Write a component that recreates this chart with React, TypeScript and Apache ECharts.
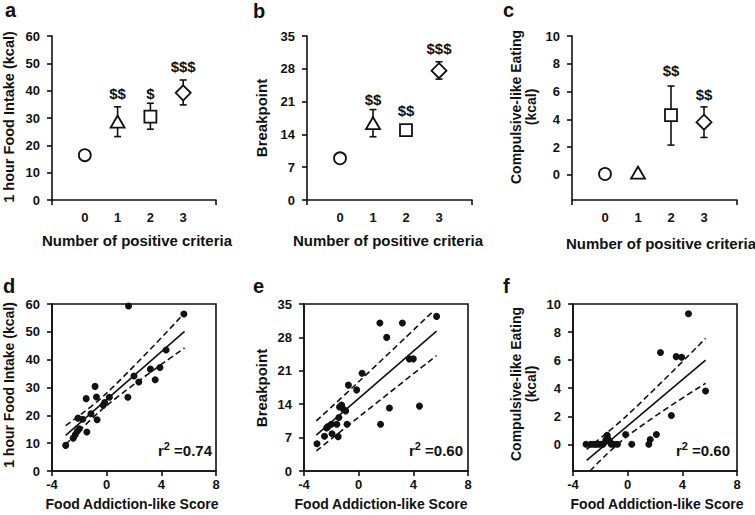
import React, { useEffect, useRef } from "react";
import * as echarts from "echarts";

// ---------------- DATA ----------------
const criteriaTicks = [0, 1, 2, 3];

// a: 1 hour food intake (kcal) by number of positive criteria
const intakeMean = [16.4, 28.7, 30.5, 39.2];
const intakeLow = [16.4, 23.2, 25.9, 34.8];
const intakeHigh = [16.4, 34.1, 35.4, 43.9];
const intakeSig = ["", "$$", "$", "$$$"];
const intakeSigY = [0, 39.1, 39.1, 48.7];

// b: breakpoint
const bpMean = [8.9, 16.4, 14.9, 27.6];
const bpLow = [8.9, 13.5, 14.9, 25.8];
const bpHigh = [8.9, 19.3, 14.9, 29.5];
const bpSig = ["", "$$", "$$", "$$$"];
const bpSigY = [0, 21.5, 19.2, 32.4];

// c: compulsive-like eating (kcal)
const compMean = [0.07, 0.17, 4.3, 3.8];
const compLow = [0.07, 0.17, 2.15, 2.7];
const compHigh = [0.07, 0.17, 6.4, 4.9];
const compSig = ["", "", "$$", "$$"];
const compSigY = [0, 0, 7.5, 5.8];

// d: food addiction-like score vs 1 hour intake
const scoreD = [-3.0, -2.45, -2.3, -2.15, -2.0, -2.1, -1.75, -1.45, -1.5, -1.15, -0.85, -0.75, -0.7, -0.25, -0.15, 0.2, 1.55, 1.6, 2.0, 2.35, 3.2, 3.55, 3.9, 4.35, 5.65];
const intakeD = [9.2, 11.8, 13.0, 14.3, 15.2, 19.0, 18.6, 14.0, 26.0, 20.6, 30.4, 26.6, 18.4, 23.6, 24.6, 26.5, 26.5, 59.3, 34.1, 32.0, 36.6, 32.8, 37.2, 43.5, 56.4];
const fitDx = [-3.0, 5.7];
const fitDy = [12.8, 50.2];
const upperDx = [-3.0, 0, 5.7];
const upperDy = [16.3, 28.0, 56.8];
const lowerDx = [-3.0, 0, 5.7];
const lowerDy = [9.5, 23.5, 44.2];

// e: score vs breakpoint
const scoreE = [-3.05, -2.5, -2.35, -2.25, -2.0, -1.95, -1.6, -1.5, -1.45, -1.4, -1.25, -1.1, -0.95, -0.85, -0.75, -0.15, 0.25, 1.55, 1.6, 2.05, 2.25, 3.2, 3.7, 4.0, 4.45, 5.7];
const bpE = [5.7, 7.3, 9.0, 9.3, 9.8, 7.8, 9.8, 7.2, 11.2, 13.4, 13.8, 12.9, 12.6, 9.8, 18.0, 17.0, 20.5, 31.0, 9.8, 28.0, 13.2, 31.0, 23.5, 23.5, 13.6, 32.4];
const fitEx = [-3.1, 5.7];
const fitEy = [7.5, 29.3];
const upperEx = [-3.1, 0, 5.5];
const upperEy = [10.5, 18.7, 33.6];
const lowerEx = [-3.1, 0, 5.7];
const lowerEy = [4.2, 11.3, 24.2];

// f: score vs compulsive-like eating
const scoreF = [-3.05, -2.7, -2.5, -2.35, -2.2, -2.0, -1.8, -1.6, -1.5, -1.45, -1.3, -1.2, -1.0, -0.75, -0.15, 0.3, 1.55, 1.65, 2.1, 2.4, 3.2, 3.55, 3.95, 4.45, 5.7];
const compF = [0, 0, 0, 0, 0, 0, 0, 0.3, 0.65, 0.4, 0.2, 0, 0, 0, 0.7, 0, 0, 0.35, 0.7, 6.55, 2.05, 6.25, 6.2, 9.3, 3.8];
const fitFx = [-3.0, 5.7];
const fitFy = [-1.15, 6.0];
const upperFx = [-3.0, 0, 5.7];
const upperFy = [-0.35, 2.1, 7.55];
const lowerFx = [-2.75, 0, 5.7];
const lowerFy = [-1.9, 0.6, 4.35];

const r2Values = ["0.74", "0.60", "0.60"];

// ---------------- STYLE ----------------
const INK = "#111";
const FONT = "Liberation Sans, Arial, sans-serif";
const markerSymbols = ["circle", "triangle", "rect", "diamond"];
const markerSizes: any[] = [12, [14, 12], 12, [15, 15]];

const zip = (xs: number[], ys: number[]) => xs.map((x, i) => [x, ys[i]]);

export default function App() {
  const ref = useRef<HTMLDivElement>(null);

  useEffect(() => {
    if (!ref.current) return;
    const chart = echarts.init(ref.current, null, { renderer: "svg" });

    const axisLine = { show: true, onZero: false, lineStyle: { color: INK, width: 1.6 } };
    const labelStyle = { color: INK, fontSize: 13, fontWeight: "bold", fontFamily: FONT };

    const grids = [
      { left: 52, top: 36, width: 164, height: 164 },
      { left: 307, top: 36, width: 165, height: 164 },
      { left: 572, top: 36, width: 165, height: 164 },
      { left: 52, top: 304, width: 164, height: 167, show: true, borderColor: INK, borderWidth: 1.6 },
      { left: 304, top: 304, width: 164, height: 167, show: true, borderColor: INK, borderWidth: 1.6 },
      { left: 573, top: 304, width: 164, height: 167, show: true, borderColor: INK, borderWidth: 1.6 },
    ];

    const xAxes: any[] = [];
    const yAxes: any[] = [];
    for (let i = 0; i < 3; i++) {
      xAxes.push({
        gridIndex: i, type: "value", min: -1, max: 4,
        axisLine, splitLine: { show: false },
        axisTick: { show: true, length: 5, customValues: [-1, 4], lineStyle: { color: INK, width: 1.6 } },
        axisLabel: { ...labelStyle, margin: 11, customValues: criteriaTicks },
      });
    }
    const topY = [
      { min: 0, max: 60, vals: [0, 10, 20, 30, 40, 50, 60] },
      { min: 0, max: 35, vals: [0, 7, 14, 21, 28, 35] },
      { min: -1.8, max: 10, vals: [0, 2, 4, 6, 8, 10] },
    ];
    topY.forEach((t, i) => {
      yAxes.push({
        gridIndex: i, type: "value", min: t.min, max: t.max,
        axisLine, splitLine: { show: false },
        axisTick: { show: true, length: 5, customValues: t.vals, lineStyle: { color: INK, width: 1.6 } },
        axisLabel: { ...labelStyle, margin: 12, customValues: t.vals },
      });
    });
    for (let i = 3; i < 6; i++) {
      xAxes.push({
        gridIndex: i, type: "value", min: -4, max: 8, interval: 4,
        axisLine, splitLine: { show: false },
        axisTick: { show: true, length: 5, lineStyle: { color: INK, width: 1.6 } },
        axisLabel: { ...labelStyle, margin: 7 },
      });
    }
    const botY = [
      { min: 0, max: 60, vals: [0, 10, 20, 30, 40, 50, 60] },
      { min: 0, max: 35, vals: [0, 7, 14, 21, 28, 35] },
      { min: -1.9, max: 10, vals: [0, 2, 4, 6, 8, 10] },
    ];
    botY.forEach((t, k) => {
      yAxes.push({
        gridIndex: k + 3, type: "value", min: t.min, max: t.max,
        axisLine, splitLine: { show: false },
        axisTick: { show: true, length: 5, customValues: t.vals, lineStyle: { color: INK, width: 1.6 } },
        axisLabel: { ...labelStyle, margin: 12, customValues: t.vals },
      });
    });

    const series: any[] = [];
    const topSets = [
      { mean: intakeMean, low: intakeLow, high: intakeHigh, sig: intakeSig, sigY: intakeSigY },
      { mean: bpMean, low: bpLow, high: bpHigh, sig: bpSig, sigY: bpSigY },
      { mean: compMean, low: compLow, high: compHigh, sig: compSig, sigY: compSigY },
    ];
    topSets.forEach((s, i) => {
      const errData = criteriaTicks
        .map((x, j) => [x, s.low[j], s.high[j]])
        .filter((d) => d[2] > d[1]);
      series.push({
        type: "custom", xAxisIndex: i, yAxisIndex: i, z: 2,
        data: errData,
        encode: { x: 0, y: [1, 2] },
        renderItem: (params: any, api: any) => {
          const x = api.value(0);
          const top = api.coord([x, api.value(2)]);
          const bot = api.coord([x, api.value(1)]);
          const w = 3.5;
          const st = { stroke: INK, lineWidth: 1.6 };
          return {
            type: "group",
            children: [
              { type: "line", shape: { x1: top[0], y1: top[1], x2: bot[0], y2: bot[1] }, style: st },
              { type: "line", shape: { x1: top[0] - w, y1: top[1], x2: top[0] + w, y2: top[1] }, style: st },
              { type: "line", shape: { x1: bot[0] - w, y1: bot[1], x2: bot[0] + w, y2: bot[1] }, style: st },
            ],
          };
        },
      });
      series.push({
        type: "scatter", xAxisIndex: i, yAxisIndex: i, z: 5,
        data: criteriaTicks.map((x, j) => ({
          value: [x, s.mean[j]],
          symbol: markerSymbols[j],
          symbolSize: markerSizes[j],
        })),
        itemStyle: { color: "#fff", borderColor: INK, borderWidth: 1.8, opacity: 1 },
      });
      series.push({
        type: "scatter", xAxisIndex: i, yAxisIndex: i, z: 6,
        symbolSize: 0,
        itemStyle: { color: "#fff", opacity: 1 },
        data: criteriaTicks
          .map((x, j) => ({ value: [x, s.sigY[j]], name: s.sig[j] }))
          .filter((d) => d.name !== ""),
        label: {
          show: true, position: [0, 0], align: "center", verticalAlign: "middle",
          formatter: (p: any) => p.name,
          color: INK, opacity: 1, textBorderWidth: 0,
          fontSize: 15, fontWeight: "bold", fontFamily: FONT,
        },
      });
    });

    const botSets = [
      { x: scoreD, y: intakeD, fx: fitDx, fy: fitDy, ux: upperDx, uy: upperDy, lx: lowerDx, ly: lowerDy },
      { x: scoreE, y: bpE, fx: fitEx, fy: fitEy, ux: upperEx, uy: upperEy, lx: lowerEx, ly: lowerEy },
      { x: scoreF, y: compF, fx: fitFx, fy: fitFy, ux: upperFx, uy: upperFy, lx: lowerFx, ly: lowerFy },
    ];
    botSets.forEach((s, k) => {
      const gi = k + 3;
      series.push({
        type: "scatter", xAxisIndex: gi, yAxisIndex: gi, z: 4,
        symbolSize: 7, itemStyle: { color: INK, opacity: 1 },
        data: zip(s.x, s.y),
      });
      series.push({
        type: "line", xAxisIndex: gi, yAxisIndex: gi, showSymbol: false, z: 3,
        lineStyle: { color: INK, width: 1.6 },
        data: zip(s.fx, s.fy),
      });
      [zip(s.ux, s.uy), zip(s.lx, s.ly)].forEach((d) => {
        series.push({
          type: "line", xAxisIndex: gi, yAxisIndex: gi, showSymbol: false, z: 3,
          smooth: 0.4,
          lineStyle: { color: INK, width: 1.6, type: [6, 3.5] },
          data: d,
        });
      });
    });

    const txt = (text: string, x: number, y: number, size: number, rot = 0, extra: any = {}) => ({
      type: "text", x, y, rotation: rot,
      style: {
        text, fill: INK, fontSize: size, fontWeight: "bold", fontFamily: FONT,
        align: "center", verticalAlign: "middle", ...extra,
      },
    });
    const R = Math.PI / 2;
    const graphic: any[] = [
      txt("a", 5, 10, 20, 0, { align: "left" }),
      txt("b", 253, 11, 20, 0, { align: "left" }),
      txt("c", 503, 10, 20, 0, { align: "left" }),
      txt("d", 3, 286, 20, 0, { align: "left" }),
      txt("e", 253, 286, 20, 0, { align: "left" }),
      txt("f", 503, 286, 20, 0, { align: "left" }),
      txt("1 hour Food Intake (kcal)", 9, 117, 14.5, R),
      txt("Breakpoint", 261, 118, 15, R),
      txt("Compulsive-like Eating\n(kcal)", 523, 107, 14, R, { lineHeight: 15 }),
      txt("1 hour Food Intake (kcal)", 9, 385, 14, R),
      txt("Breakpoint", 261, 388, 15, R),
      txt("Compulsive-like Eating\n(kcal)", 523, 384, 14, R, { lineHeight: 15 }),
      txt("Number of positive criteria", 137, 240, 15),
      txt("Number of positive criteria", 388, 240, 15),
      txt("Number of positive criteria", 661, 243, 15),
      txt("Food Addiction-like Score", 132, 504, 14),
      txt("Food Addiction-like Score", 381, 504, 14),
      txt("Food Addiction-like Score", 657, 504, 14),
    ];
    const r2Right = [212, 463, 730];
    r2Values.forEach((v, k) => {
      graphic.push({
        type: "text", x: r2Right[k], y: 450,
        style: {
          text: "{r|r}{s|2}{r| =" + v + "}",
          align: "right", verticalAlign: "middle",
          fill: INK, fontFamily: FONT, fontWeight: "bold",
          rich: {
            r: { fontSize: 15, fontWeight: "bold", fontFamily: FONT, fill: INK },
            s: { fontSize: 11, fontWeight: "bold", fontFamily: FONT, fill: INK, padding: [0, 0, 8, 0] },
          },
        },
      });
    });

    chart.setOption({
      animation: false,
      backgroundColor: "#fff",
      grid: grids,
      xAxis: xAxes,
      yAxis: yAxes,
      series,
      graphic,
    });
    return () => chart.dispose();
  }, []);

  return (
    <div
      ref={ref}
      style={{ position: "absolute", left: 0, top: 0, width: 755, height: 515, background: "#fff" }}
    />
  );
}
